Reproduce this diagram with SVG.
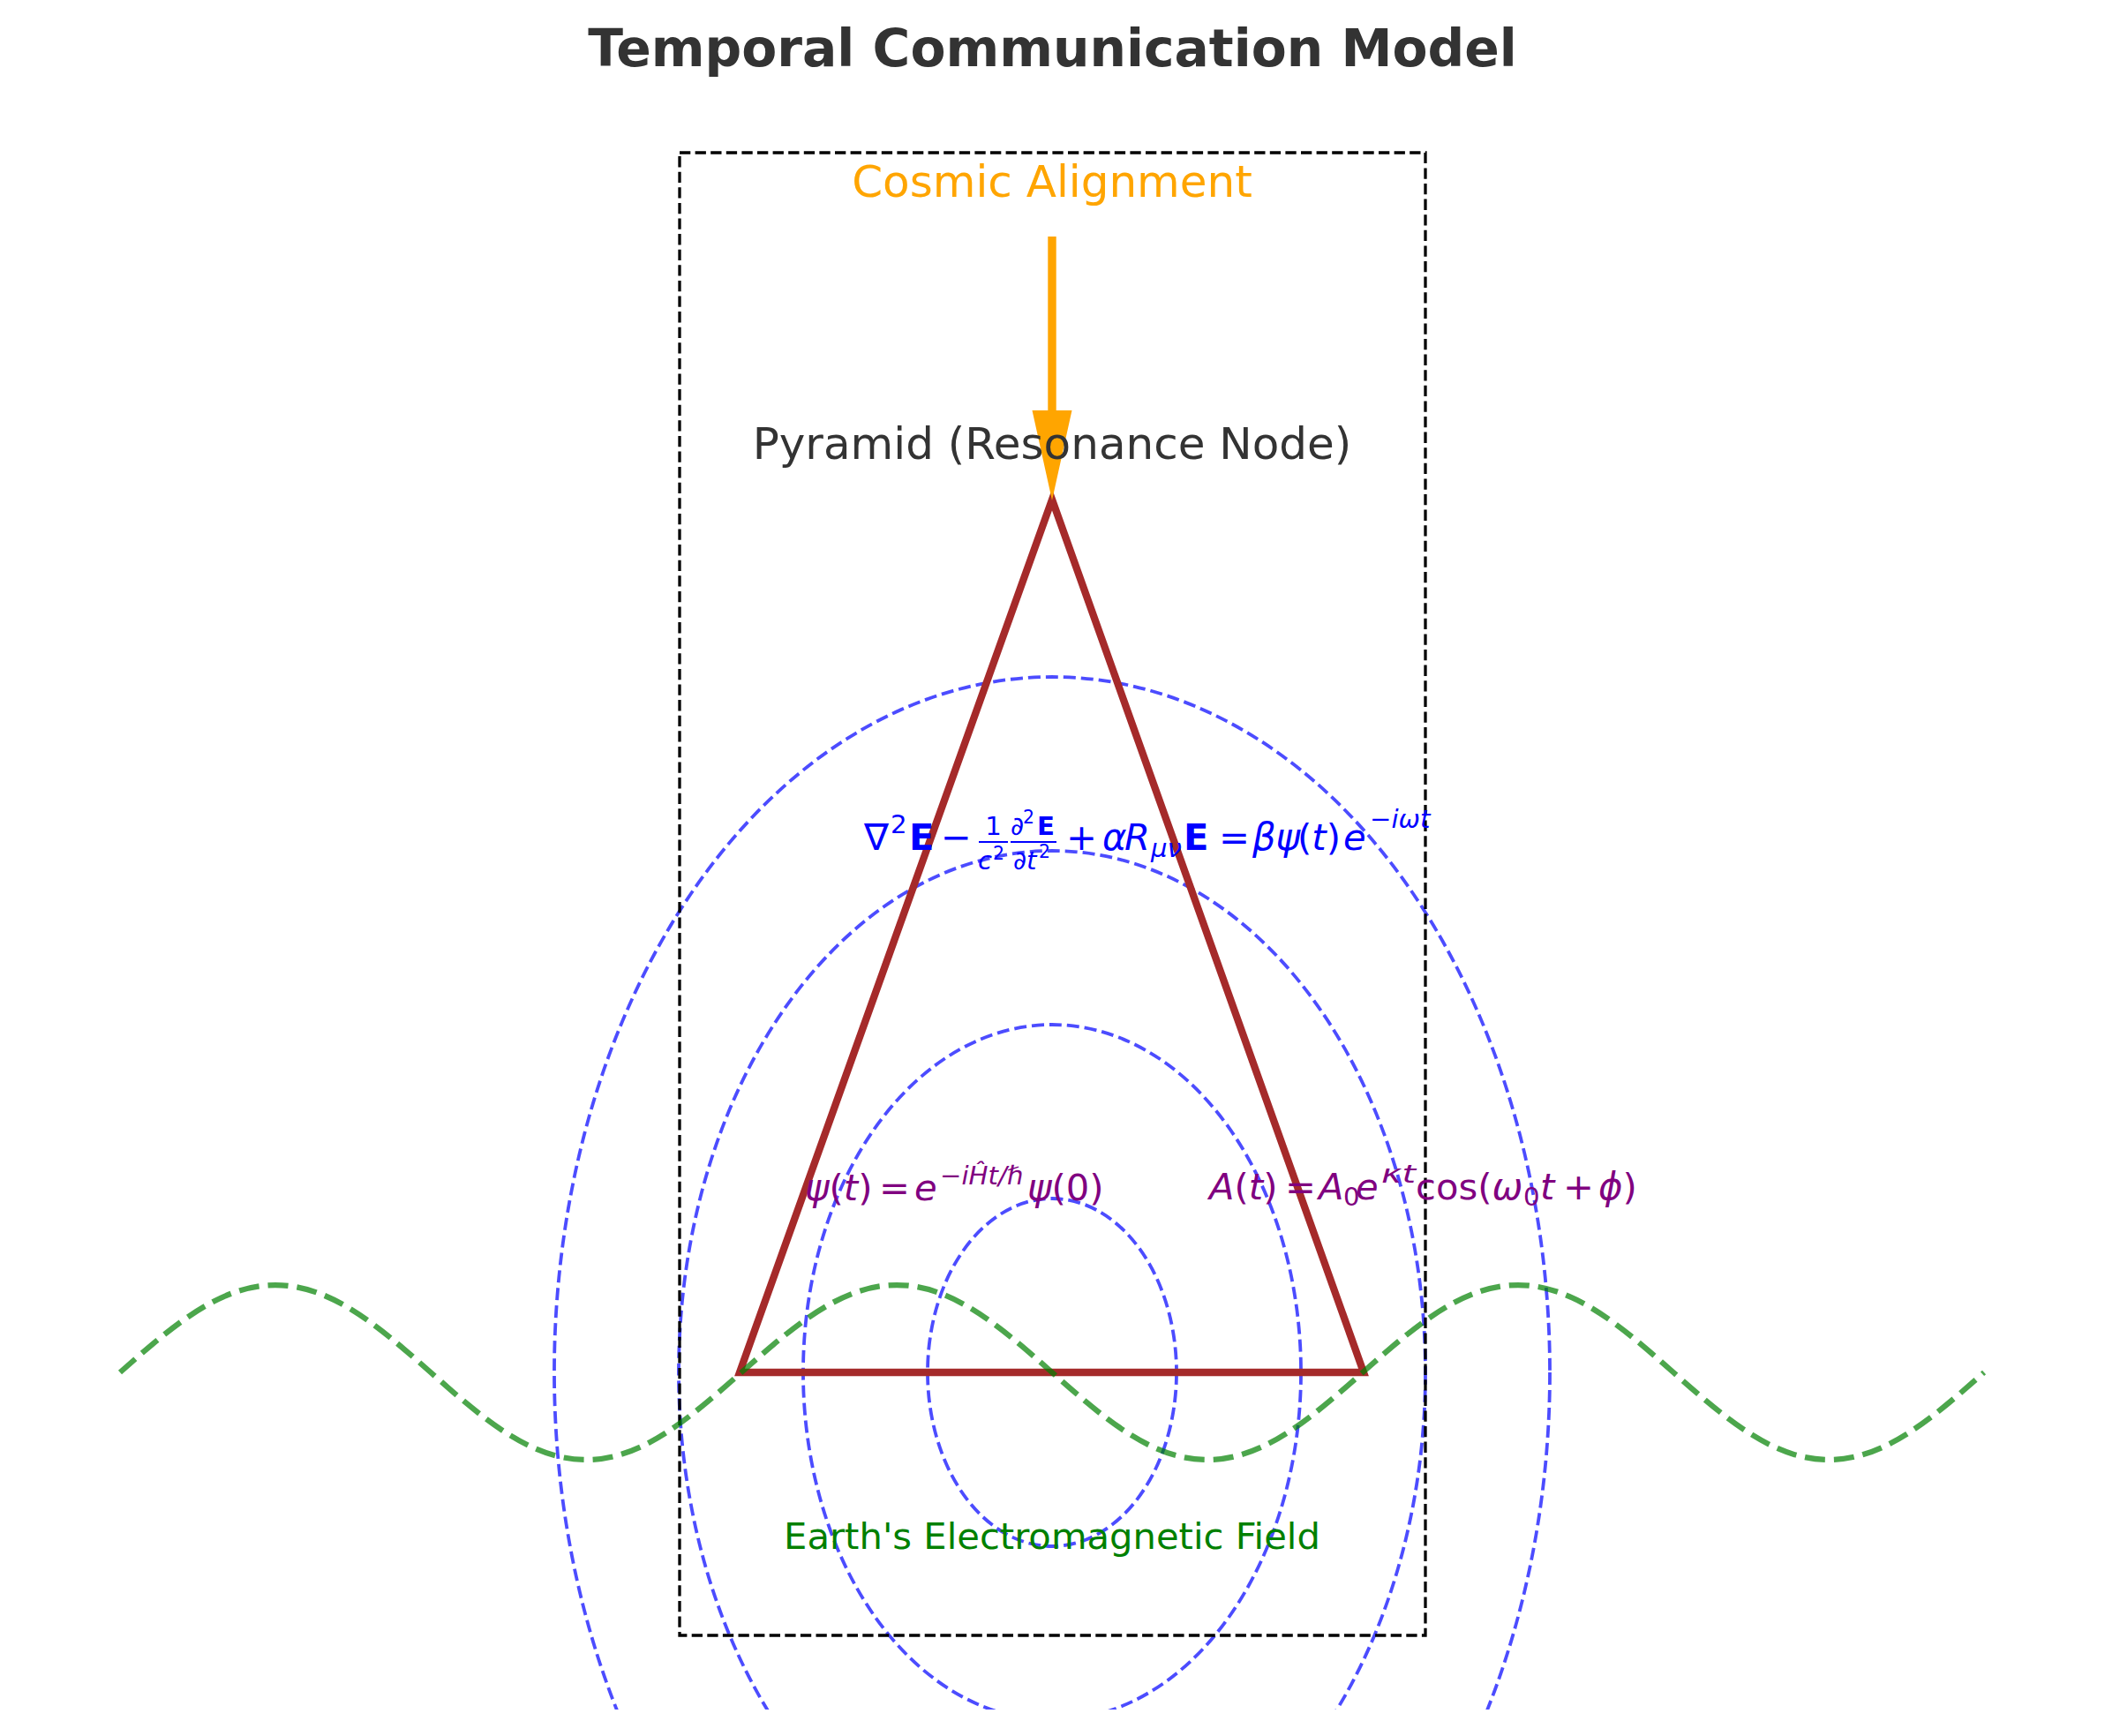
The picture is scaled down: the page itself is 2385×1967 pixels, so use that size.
<svg xmlns="http://www.w3.org/2000/svg" width="2385" height="1967" viewBox="0 0 2385 1967">
<style>
.t{font-family:"DejaVu Sans",sans-serif}
.i{font-style:italic}
.b{font-weight:bold}
.m{font-size:41.7px}
.s{font-size:29.2px}
.ss{font-size:20.4px}
.ell{fill:none;stroke:#0000FF;stroke-opacity:0.7;stroke-width:3.8;stroke-dasharray:14 6}
</style>
<defs>
<clipPath id="ax"><rect x="0" y="0" width="2385" height="1937"/></clipPath>
</defs>
<rect width="2385" height="1967" fill="#ffffff"/>
<g id="field-rings" clip-path="url(#ax)">
<ellipse class="ell" cx="1192" cy="1555" rx="141" ry="197"/>
<ellipse class="ell" cx="1192" cy="1555" rx="282" ry="394"/>
<ellipse class="ell" cx="1192" cy="1555" rx="423" ry="591"/>
<ellipse class="ell" cx="1192" cy="1555" rx="564" ry="788"/>
</g>
<g id="pyramid">
<polygon points="1192,566 1545,1555 838,1555" fill="none" stroke="#A52A2A" stroke-width="8.3" stroke-linejoin="miter"/>
</g>
<g id="frame">
<rect x="770" y="173" width="845" height="1680" fill="none" stroke="#000000" stroke-width="3.3" stroke-dasharray="12.3 5.3"/>
</g>
<g id="connectors">
<polygon points="1187.3,268 1196.7,268 1196.7,465 1214.5,465 1192,567 1169.5,465 1187.3,465" fill="#FFA500"/>
</g>
<g id="earth-wave">
<path d="M136,1555 c58.84,-51.98 112.65,-99 176,-99 c63.35,0 117.16,47.02 176,99 c58.84,51.98 112.65,99 176,99 c63.35,0 117.16,-47.02 176,-99 c58.84,-51.98 112.65,-99 176,-99 c63.35,0 117.16,47.02 176,99 c58.84,51.98 112.65,99 176,99 c63.35,0 117.16,-47.02 176,-99 c58.84,-51.98 112.65,-99 176,-99 c63.35,0 117.16,47.02 176,99 c58.84,51.98 112.65,99 176,99 c63.35,0 117.16,-47.02 176,-99" fill="none" stroke="#008000" stroke-opacity="0.7" stroke-width="6.25" stroke-dasharray="23 10"/>
</g>
<g id="title">
<text class="t b" x="1192.5" y="75" font-size="58.3" fill="#333333" text-anchor="middle">Temporal Communication Model</text>
</g>
<g id="cosmic-alignment">
<text class="t" x="1192" y="223" font-size="50" fill="#FFA500" text-anchor="middle">Cosmic Alignment</text>
</g>
<g id="pyramid-label">
<text class="t" x="1192" y="520" font-size="50" fill="#333333" text-anchor="middle">Pyramid (Resonance Node)</text>
</g>
<g id="eq-field" class="t" fill="#0000FF">
<text class="m" x="979" y="963">∇</text>
<text class="s" x="1009" y="944">2</text>
<text class="m b" x="1030" y="963">E</text>
<text class="m" x="1066" y="963">−</text>
<text class="s" x="1125.5" y="946" text-anchor="middle">1</text>
<rect x="1109" y="953" width="33" height="2"/>
<text class="s i" x="1108" y="985">c</text>
<text class="ss" x="1125" y="974">2</text>
<rect x="1145" y="953" width="52" height="2"/>
<text class="s" x="1145" y="946">∂</text>
<text class="ss" x="1159" y="933">2</text>
<text class="s b" x="1175" y="946">E</text>
<text class="s" x="1148" y="985">∂</text>
<text class="s i" x="1163" y="985">t</text>
<text class="ss" x="1177" y="972">2</text>
<text class="m" x="1208" y="963">+</text>
<text class="m i" x="1249" y="963">α</text>
<text class="m i" x="1274" y="963">R</text>
<text class="s i" x="1304" y="971">μν</text>
<text class="m b" x="1341" y="963">E</text>
<text class="m" x="1381" y="963">=</text>
<text class="m i" x="1419" y="963">βψ</text>
<text class="m" x="1470" y="963">(<tspan class="i">t</tspan>)</text>
<text class="m i" x="1522" y="963">e</text>
<text class="s" x="1552" y="938">−<tspan class="i">iωt</tspan></text>
</g>
<g id="eq-psi" class="t" fill="#800080">
<text class="m" x="912" y="1360"><tspan class="i">ψ</tspan>(<tspan class="i">t</tspan>)</text>
<text class="m" x="996" y="1360">=</text>
<text class="m i" x="1036" y="1360">e</text>
<text class="s" x="1065" y="1342">−<tspan class="i">iĤt/ℏ</tspan></text>
<text class="m" x="1164" y="1360"><tspan class="i">ψ</tspan>(0)</text>
</g>
<g id="eq-amplitude" class="t" fill="#800080">
<text class="m" x="1370" y="1359"><tspan class="i">A</tspan>(<tspan class="i">t</tspan>)</text>
<text class="m" x="1456" y="1359">=</text>
<text class="m i" x="1494" y="1359">A</text>
<text class="s" x="1522" y="1366">0</text>
<text class="m i" x="1536" y="1359">e</text>
<text class="s i" x="1565" y="1340" textLength="39" lengthAdjust="spacingAndGlyphs">κt</text>
<text class="m" x="1604" y="1359">cos(<tspan class="i">ω</tspan></text>
<text class="s" x="1726" y="1366">0</text>
<text class="m i" x="1745" y="1359">t</text>
<text class="m" x="1771" y="1359">+</text>
<text class="m" x="1811" y="1359"><tspan class="i">ϕ</tspan>)</text>
</g>
<g id="earth-label">
<text class="t" x="1192" y="1755" font-size="41.7" fill="#008000" text-anchor="middle">Earth's Electromagnetic Field</text>
</g>
</svg>
